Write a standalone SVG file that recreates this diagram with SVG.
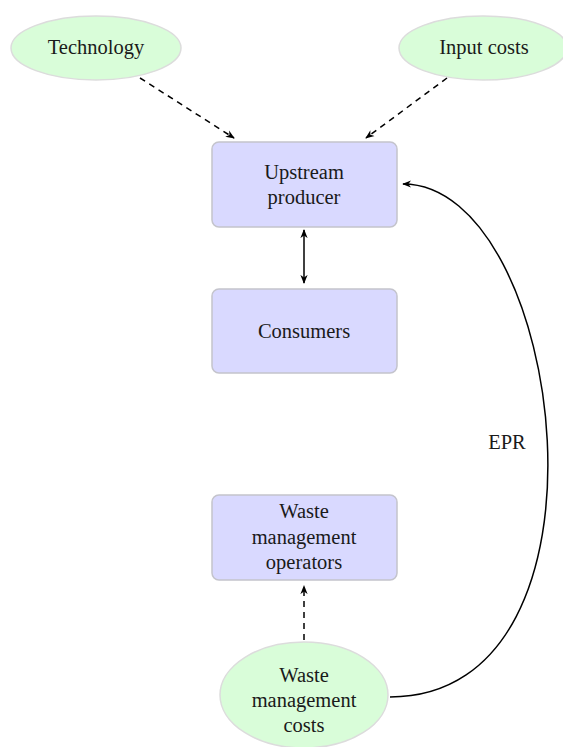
<svg xmlns="http://www.w3.org/2000/svg" width="563" height="747" viewBox="0 0 563 747">
<style>
.box{fill:#d9d9ff;stroke:#c4c4cc;stroke-width:1.5}
.ell{fill:#d9fdd9;stroke:#dcdcdc;stroke-width:1.5}
text{font-family:'Liberation Serif','Times New Roman',serif;font-size:20.5px;fill:#1a1a1a;text-anchor:middle}
.c{fill:none;stroke:#000;stroke-width:1.5}
.d{stroke-dasharray:6,5}
</style>
<defs>
<marker id="ah" viewBox="0 0 10 10" refX="9" refY="5" markerWidth="9" markerHeight="9" markerUnits="userSpaceOnUse" orient="auto-start-reverse">
<path d="M0,1 L10,5 L0,9 L3,5 Z" fill="#000"/>
</marker>
</defs>
<g id="technology"><ellipse class="ell" cx="96" cy="48" rx="85" ry="32"/><text x="96" y="54">Technology</text></g>
<g id="input-costs"><ellipse class="ell" cx="483" cy="48" rx="84" ry="32"/><text x="484" y="54">Input costs</text></g>
<g id="upstream"><rect class="box" x="212" y="142" width="185" height="85" rx="7"/><text x="304" y="179">Upstream</text><text x="304" y="204">producer</text></g>
<g id="consumers"><rect class="box" x="212" y="289" width="185" height="84" rx="7"/><text x="304" y="338">Consumers</text></g>
<g id="operators"><rect class="box" x="212" y="495" width="185" height="85" rx="7"/><text x="304" y="518">Waste</text><text x="304" y="544">management</text><text x="304" y="569">operators</text></g>
<g id="wm-costs"><ellipse class="ell" cx="304" cy="695" rx="84" ry="53"/><text x="304" y="682">Waste</text><text x="304" y="707">management</text><text x="304" y="732">costs</text></g>
<g id="connectors">
<path class="c d" d="M140,78 L234,138" marker-end="url(#ah)"/>
<path class="c d" d="M447,78 L366,138" marker-end="url(#ah)"/>
<path class="c" d="M304,230 L304,283" marker-start="url(#ah)" marker-end="url(#ah)"/>
<path class="c d" d="M304,640 L304,586" marker-end="url(#ah)"/>
<path class="c" d="M390,697 C630,697 565,184 403,184" marker-end="url(#ah)"/>
<text x="507" y="449">EPR</text>
</g>
</svg>
